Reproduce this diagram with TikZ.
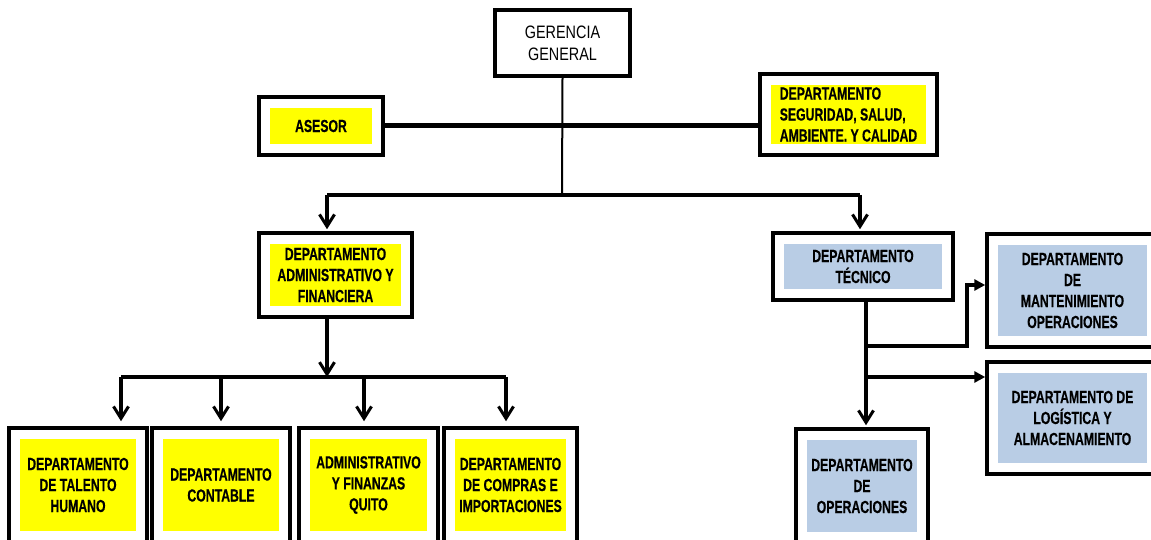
\documentclass[tikz,border=0pt]{standalone}
\usepackage{fontspec}
\setmainfont{Liberation Sans}[FakeStretch=0.7, BoldFeatures={FakeBold=0.4}]
\newfontfamily\gerfont{Liberation Sans}[FakeStretch=0.8]
\usetikzlibrary{arrows.meta}
\definecolor{amarillo}{HTML}{FFFF00}
\definecolor{celeste}{HTML}{B9CDE5}

\begin{document}
\begin{tikzpicture}[x=1pt,y=-1pt,
		box/.style={draw, line width=3.5pt, fill=white, align=center, inner sep=0pt,
			font=\fontsize{17.5}{21}\selectfont\bfseries},
		relleno/.style={path picture={\fill[#1] ([shift={(11pt,-11pt)}]path picture bounding box.north west)
			rectangle ([shift={(-11pt,11pt)}]path picture bounding box.south east);}},
		linea/.style={line width=3.2pt},
		flecha/.style={linea, -{Straight Barb[length=12pt,width=15pt,line width=3pt]}},
		flechad/.style={linea, -{Triangle[length=11pt,width=11pt]}}]
		\useasboundingbox (0,0) rectangle (1151,540);
		% nivel superior
		\node[box, minimum width=135pt, minimum height=66pt, font=\gerfont\fontsize{18}{22}\selectfont] (gg) at (562.5,43) {GERENCIA\\GENERAL};
		\node[box, relleno=amarillo, minimum width=124pt, minimum height=58pt] (ase) at (321,126) {ASESOR};
		\node[box, relleno=amarillo, minimum width=177pt, minimum height=81pt, align=left] (ssa) at (848.5,114.5) {DEPARTAMENTO\\SEGURIDAD, SALUD,\\AMBIENTE. Y CALIDAD};
		% departamentos
		\node[box, relleno=amarillo, minimum width=153pt, minimum height=84pt] (adm) at (335.5,275) {DEPARTAMENTO\\ADMINISTRATIVO Y\\FINANCIERA};
		\node[box, relleno=celeste, minimum width=180pt, minimum height=67pt] (tec) at (863,266.5) {DEPARTAMENTO\\TÉCNICO};
		\node[box, relleno=celeste, minimum width=171pt, minimum height=113pt] (man) at (1072.5,290.5) {DEPARTAMENTO\\DE\\MANTENIMIENTO\\OPERACIONES};
		\node[box, relleno=celeste, minimum width=171pt, minimum height=112pt] (log) at (1072.5,418) {DEPARTAMENTO DE\\LOGÍSTICA Y\\ALMACENAMIENTO};
		\node[box, relleno=celeste, minimum width=132pt, minimum height=114pt] (ope) at (862,486) {DEPARTAMENTO\\DE\\OPERACIONES};
		% fila inferior
		\node[box, relleno=amarillo, minimum width=138pt, minimum height=114pt] (tal) at (78,485) {DEPARTAMENTO\\DE TALENTO\\HUMANO};
		\node[box, relleno=amarillo, minimum width=138pt, minimum height=114pt] (con) at (221,485) {DEPARTAMENTO\\CONTABLE};
		\node[box, relleno=amarillo, minimum width=139pt, minimum height=114pt] (adq) at (368.5,485) {ADMINISTRATIVO\\Y FINANZAS\\QUITO};
		\node[box, relleno=amarillo, minimum width=133pt, minimum height=114pt] (com) at (510.5,485) {DEPARTAMENTO\\DE COMPRAS E\\IMPORTACIONES};
		% conectores
		\coordinate (nudo) at (562,195);
		\coordinate (b1) at (327,195);
		\coordinate (b2) at (860,195);
		\coordinate (b3) at (327,377);
		\draw[line width=2pt] (gg.south) -- (nudo);
		\draw[line width=5pt] (ase.east) -- (ase.east -| ssa.west);
		\draw[linea] (b1) -- (b2);
		\draw[flecha, shorten >=2pt] (b1) -- (b1 |- adm.north);
		\draw[flecha, shorten >=2pt] (b2) -- (b2 |- tec.north);
		\draw[flecha] (b3 |- adm.south) -- (b3);
		\coordinate (c1) at (121,377);
		\coordinate (c4) at (506,377);
		\draw[linea] (c1) -- (c4);
		\foreach \x/\n in {121/tal,221/con,364/adq,506/com} {
			\coordinate (t\n) at (\x,377);
			\draw[flecha, shorten >=5pt] (t\n) -- (t\n |- \n.north);
		}
		\coordinate (v1) at (866,346);
		\coordinate (v2) at (866,377);
		\coordinate (q) at (967,285);
		\draw[flecha, shorten >=2pt] (v1 |- tec.south) -- (v1 |- ope.north);
		\draw[flechad] (v1) -| (q) -- (q -| man.west);
		\draw[flechad] (v2) -- (v2 -| log.west);
	\end{tikzpicture}
\end{document}
